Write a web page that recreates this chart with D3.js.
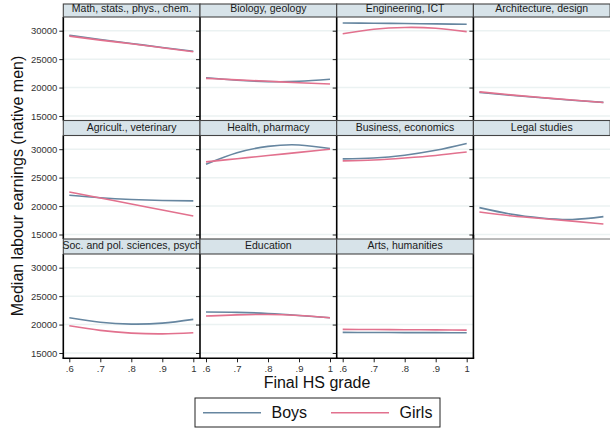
<!DOCTYPE html>
<html>
<head>
<meta charset="utf-8">
<script src="https://cdn.jsdelivr.net/npm/d3@7"></script>
<style>
  body { margin: 0; background: #fff; }
  svg { display: block; font-family: "Liberation Sans", Arial, Helvetica, sans-serif; }
</style>
</head>
<body>
<svg id="chart" width="610" height="429"></svg>
<script>
// Fields of study, one small panel each (read row by row, 4 per row)
const categories = [
  "Math, stats., phys., chem.", "Biology, geology", "Engineering, ICT", "Architecture, design",
  "Agricult., veterinary", "Health, pharmacy", "Business, economics", "Legal studies",
  "Soc. and pol. sciences, psych", "Education", "Arts, humanities"
];
// Final high-school grade (x) and its tick labels
const grades = [0.6, 0.7, 0.8, 0.9, 1.0];
const gradeTickLabels = [".6", ".7", ".8", ".9", "1"];
// Earnings ticks (y)
const earningTicks = [15000, 20000, 25000, 30000];
// Series names
const seriesNames = ["Boys", "Girls"];
// Median labour earnings at each grade, per field
const boys = [
  [29200, 28450, 27750, 27050, 26400],
  [21730, 21300, 21050, 21100, 21450],
  [31360, 31320, 31260, 31200, 31130],
  [19150, 18650, 18200, 17780, 17400],
  [21900, 21450, 21150, 20980, 20920],
  [27360, 29370, 30500, 30750, 30120],
  [28300, 28450, 28950, 29800, 31000],
  [19730, 18600, 17900, 17650, 18150],
  [21200, 20400, 20080, 20250, 20920],
  [22200, 22150, 21950, 21600, 21200],
  [18620, 18600, 18590, 18580, 18560]
];
const girls = [
  [29050, 28350, 27700, 27000, 26300],
  [21620, 21350, 21100, 20850, 20620],
  [29470, 30250, 30570, 30430, 29830],
  [19250, 18720, 18250, 17800, 17380],
  [22480, 21420, 20370, 19310, 18260],
  [27770, 28330, 28890, 29440, 30000],
  [27950, 28100, 28450, 28900, 29500],
  [18960, 18300, 17800, 17350, 16850],
  [19790, 18980, 18500, 18360, 18560],
  [21500, 21700, 21780, 21600, 21200],
  [19150, 19130, 19100, 19070, 19030]
];

const colors = { Boys: "#6686a0", Girls: "#e2718e" };

const svg = d3.select("#chart");
const nCols = 4, nRows = 3;
const colX0 = 63.3, colW = 136.7;
const rowY0 = 2, rowH = 118.5, headH = 15;
const lastBottom = 358.3;

const x = d3.scaleLinear().domain([0.6, 1]).range([6, colW - 6.7]);
const y = d3.scaleLinear().domain([15000, 30000]).range([114, 28.7]);

const line = d3.line()
  .x((d, i) => x(grades[i]))
  .y(d => y(d))
  .curve(d3.curveNatural);

const lastRowOf = c => {
  let r = 0;
  categories.forEach((_, i) => { if (i % nCols === c) r = Math.floor(i / nCols); });
  return r;
};

categories.forEach((name, i) => {
  const c = i % nCols, r = Math.floor(i / nCols);
  const left = colX0 + c * colW;
  const top = rowY0 + r * rowH;
  const headTop = r === 0 ? 4 : top;
  const plotTop = top + headH;
  const isBottomRow = r === nRows - 1;
  const plotBottom = isBottomRow ? lastBottom : top + rowH;

  const g = svg.append("g").attr("transform", `translate(${left},${top})`);

  // gridlines
  g.selectAll("line.grid").data(earningTicks).join("line")
    .attr("class", "grid")
    .attr("x1", 0).attr("x2", colW)
    .attr("y1", d => y(d)).attr("y2", d => y(d))
    .attr("stroke", "#ebf2f2").attr("stroke-width", 1.5);

  // series
  [boys, girls].forEach((s, k) => {
    g.append("path")
      .attr("d", line(s[i]))
      .attr("fill", "none")
      .attr("stroke", colors[seriesNames[k]])
      .attr("stroke-width", 1.6);
  });

  // left axis with ticks; labels only in the first column
  const ax = d3.axisLeft(y).tickValues(earningTicks).tickSize(4).tickSizeOuter(0).tickPadding(2)
    .tickFormat(c === 0 ? d3.format("d") : () => "");
  const axG = g.append("g").call(ax);
  axG.select(".domain").remove();
  axG.selectAll(".tick line").attr("stroke", "#222").attr("stroke-width", 1);
  axG.selectAll(".tick text").attr("font-size", 9.5).attr("fill", "#333").attr("font-family", null);

  svg.append("line")
    .attr("x1", left).attr("x2", left)
    .attr("y1", plotTop).attr("y2", plotBottom)
    .attr("stroke", "#000").attr("stroke-width", 1.6);

  // panel without a neighbour to the right in the last row gets a closing edge
  if (isBottomRow && c === (categories.length - 1) % nCols) {
    svg.append("line")
      .attr("x1", left + colW).attr("x2", left + colW)
      .attr("y1", top - 4).attr("y2", plotBottom)
      .attr("stroke", "#000").attr("stroke-width", 1.6);
  }

  // x axis on the bottom panel of each column
  if (isBottomRow) {
    const bx = d3.axisBottom(x).tickValues(grades).tickSize(4).tickSizeOuter(0).tickPadding(3)
      .tickFormat((d, j) => gradeTickLabels[j]);
    const bxG = svg.append("g").attr("transform", `translate(${left},${plotBottom})`).call(bx);
    bxG.select(".domain").remove();
    bxG.selectAll(".tick line").attr("stroke", "#222");
    bxG.selectAll(".tick text").attr("font-size", 9.5).attr("fill", "#333").attr("font-family", null);
    svg.append("line")
      .attr("x1", left - 0.8).attr("x2", left + colW + 0.8)
      .attr("y1", plotBottom).attr("y2", plotBottom)
      .attr("stroke", "#000").attr("stroke-width", 1.6);
  } else if (lastRowOf(c) === r) {
    svg.append("line")
      .attr("x1", left).attr("x2", left + colW)
      .attr("y1", plotBottom).attr("y2", plotBottom)
      .attr("stroke", "#777").attr("stroke-width", 1);
  }

  // panel header
  svg.append("rect")
    .attr("x", left).attr("y", headTop)
    .attr("width", colW).attr("height", plotTop - headTop)
    .attr("fill", "#d7e3e9").attr("stroke", "#444").attr("stroke-width", 1.1);
  svg.append("text")
    .attr("x", left + colW / 2).attr("y", top + 10.3)
    .attr("text-anchor", "middle")
    .attr("font-size", 10.5).attr("fill", "#1a1a1a")
    .text(name);
});

// axis titles
svg.append("text")
  .attr("transform", "translate(22.5,186) rotate(-90)")
  .attr("text-anchor", "middle").attr("font-size", 16).attr("fill", "#111")
  .text("Median labour earnings (native men)");
svg.append("text")
  .attr("x", 317).attr("y", 388)
  .attr("text-anchor", "middle").attr("font-size", 16).attr("fill", "#111")
  .text("Final HS grade");

// legend
const lg = svg.append("g");
lg.append("rect").attr("x", 195).attr("y", 398).attr("width", 245).attr("height", 29)
  .attr("fill", "#fff").attr("stroke", "#222").attr("stroke-width", 1);
const legendX = d3.scalePoint().domain(seriesNames).range([203, 331]);
seriesNames.forEach(n => {
  const lx = legendX(n);
  lg.append("line").attr("x1", lx).attr("x2", lx + 58).attr("y1", 412.7).attr("y2", 412.7)
    .attr("stroke", colors[n]).attr("stroke-width", 1.6);
  lg.append("text").attr("x", lx + 68.5).attr("y", 418)
    .attr("font-size", 16).attr("fill", "#111").text(n);
});
</script>
</body>
</html>
